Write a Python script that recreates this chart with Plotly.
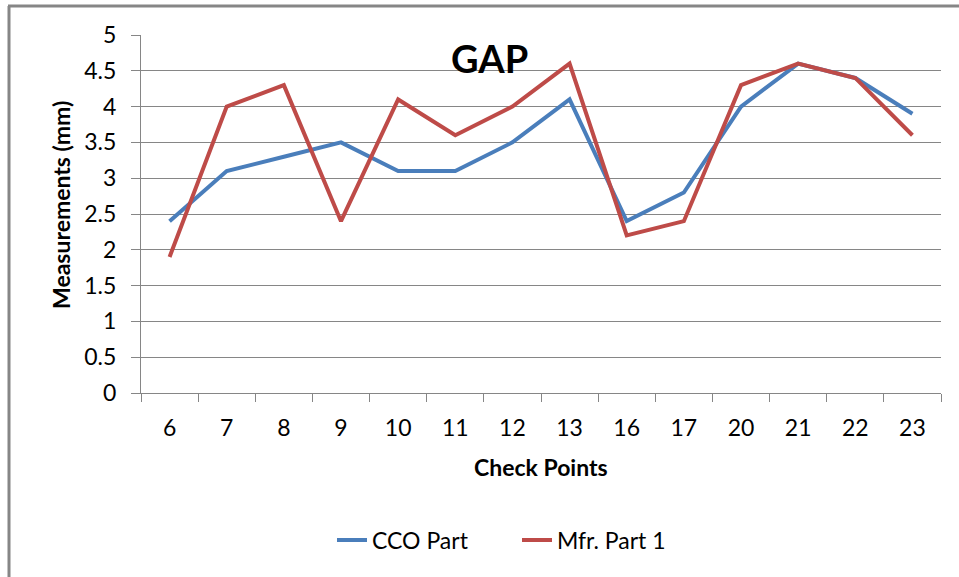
import plotly.graph_objects as go

check_points = ["6", "7", "8", "9", "10", "11", "12", "13", "16", "17", "20", "21", "22", "23"]
cco_part = [2.4, 3.1, 3.3, 3.5, 3.1, 3.1, 3.5, 4.1, 2.4, 2.8, 4.0, 4.6, 4.4, 3.9]
mfr_part_1 = [1.9, 4.0, 4.3, 2.4, 4.1, 3.6, 4.0, 4.6, 2.2, 2.4, 4.3, 4.6, 4.4, 3.6]

W, H = 959, 577
L, R, T, B = 141, 18, 35, 184
pw, ph = W - L - R, H - T - B

def px(x):
    return (x - L) / pw

def py(y):
    return (H - B - y) / ph

FONT = "Lato"
GRID = "#868686"

fig = go.Figure()
fig.add_trace(go.Scatter(x=check_points, y=cco_part, mode="lines", name="CCO Part",
                         line=dict(color="#4A7EBB", width=4)))
fig.add_trace(go.Scatter(x=check_points, y=mfr_part_1, mode="lines", name="Mfr. Part 1",
                         line=dict(color="#BE4B48", width=4)))

fig.update_layout(
    width=W, height=H, autosize=False,
    margin=dict(l=L, r=R, t=T, b=B),
    paper_bgcolor="white", plot_bgcolor="white",
    font=dict(family=FONT, color="#000000"),
    showlegend=True,
    legend=dict(orientation="h", x=px(332), xanchor="left", y=py(540), yanchor="middle",
                font=dict(size=23, family=FONT), entrywidth=140, entrywidthmode="pixels"),
    xaxis=dict(type="category", range=[-0.5, 13.5], tickson="boundaries",
               ticks="outside", ticklen=8, tickcolor=GRID, tickwidth=1,
               showline=True, linecolor=GRID, linewidth=1, showgrid=False,
               tickfont=dict(size=23, family=FONT), ticklabelstandoff=14),
    yaxis=dict(range=[0, 5], dtick=0.5, tick0=0, ticks="outside", ticklen=9,
               tickcolor=GRID, tickwidth=1, showline=True, linecolor=GRID, linewidth=1,
               showgrid=True, gridcolor=GRID, gridwidth=1, zeroline=False,
               tickfont=dict(size=23, family=FONT), ticklabelstandoff=10),
    annotations=[
        dict(text="<b>GAP</b>", x=px(489), y=py(58), xref="paper", yref="paper",
             xanchor="center", yanchor="middle", showarrow=False,
             font=dict(size=38, family=FONT)),
        dict(text="<b>Check Points</b>", x=px(541), y=py(467), xref="paper", yref="paper",
             xanchor="center", yanchor="middle", showarrow=False,
             font=dict(size=23, family=FONT)),
        dict(text="<b>Measurements (mm)</b>", x=px(61), y=py(205), xref="paper", yref="paper",
             xanchor="center", yanchor="middle", showarrow=False, textangle=-90,
             font=dict(size=23, family=FONT)),
    ],
    shapes=[
        dict(type="line", xref="paper", yref="paper", x0=px(8), x1=px(959), y0=py(6), y1=py(6),
             line=dict(color=GRID, width=3)),
        dict(type="line", xref="paper", yref="paper", x0=px(9), x1=px(9), y0=py(6), y1=py(577),
             line=dict(color=GRID, width=3)),
    ],
)

fig.write_html("out.html", config={"displayModeBar": False},
               post_script="document.body.style.margin='0px';")
